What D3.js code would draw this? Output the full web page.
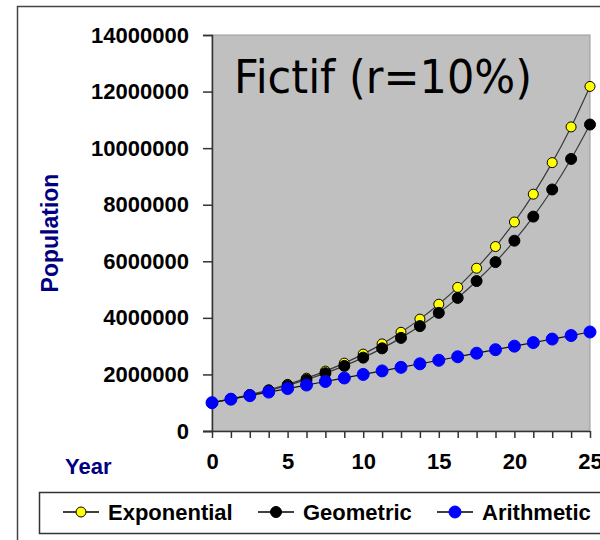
<!DOCTYPE html>
<html>
<head>
<meta charset="utf-8">
<script src="https://cdn.jsdelivr.net/npm/d3@7"></script>
<style>
  html, body { margin: 0; padding: 0; background: #ffffff; }
  svg { display: block; font-family: "Liberation Sans", Arial, sans-serif; }
</style>
</head>
<body>
<svg id="chart" width="600" height="540"></svg>
<script>
// Years sampled every 1.25
const years = [0, 1.25, 2.5, 3.75, 5, 6.25, 7.5, 8.75, 10, 11.25, 12.5, 13.75, 15,
               16.25, 17.5, 18.75, 20, 21.25, 22.5, 23.75, 25];

// Population under the three growth models, r = 10%
const exponential = [1000000, 1133000, 1284000, 1455000, 1649000, 1868000, 2117000,
                     2399000, 2718000, 3080000, 3490000, 3955000, 4482000, 5078000,
                     5755000, 6521000, 7389000, 8373000, 9488000, 10751000, 12182000];
const geometric = [1000000, 1127000, 1269000, 1430000, 1611000, 1814000, 2044000,
                   2302000, 2594000, 2922000, 3292000, 3708000, 4177000, 4706000,
                   5301000, 5972000, 6728000, 7579000, 8538000, 9618000, 10835000];
const arithmetic = [1000000, 1125000, 1250000, 1375000, 1500000, 1625000, 1750000,
                    1875000, 2000000, 2125000, 2250000, 2375000, 2500000, 2625000,
                    2750000, 2875000, 3000000, 3125000, 3250000, 3375000, 3500000];

const seriesNames = ["Exponential", "Geometric", "Arithmetic"];
const yTicks = [0, 2000000, 4000000, 6000000, 8000000, 10000000, 12000000, 14000000];
const xTicks = [0, 5, 10, 15, 20, 25];
const xMinorTicks = years;
const titleText = "Fictif (r=10%)";

const svg = d3.select("#chart");

// outer chart frame
svg.append("rect")
  .attr("x", 17.5).attr("y", 6.5)
  .attr("width", 620).attr("height", 560)
  .attr("fill", "#ffffff").attr("stroke", "#444").attr("stroke-width", 1.5);

const plot = { left: 212, top: 35, right: 590, bottom: 431 };

const x = d3.scaleLinear().domain([0, 25]).range([plot.left, plot.right]);
const y = d3.scaleLinear().domain([0, 14000000]).range([plot.bottom, plot.top]);

// plot area
svg.append("rect")
  .attr("x", plot.left).attr("y", plot.top)
  .attr("width", plot.right - plot.left).attr("height", plot.bottom - plot.top)
  .attr("fill", "#c0c0c0").attr("stroke", "#9a9a9a").attr("stroke-width", 1);

// chart title inside plot area
svg.append("text")
  .attr("x", 234).attr("y", 93)
  .style("font-family", "'DejaVu Sans', Tahoma, sans-serif")
  .style("font-size", "46px")
  .attr("fill", "#000")
  .attr("textLength", 298)
  .attr("lengthAdjust", "spacingAndGlyphs")
  .text(titleText);

// y axis
const yAxis = d3.axisLeft(y).tickValues(yTicks).tickSize(9).tickPadding(14)
  .tickFormat(d3.format("d"));
const gy = svg.append("g").attr("transform", `translate(${plot.left},0)`).call(yAxis);
gy.attr("font-family", null).attr("font-size", null);
gy.select(".domain").attr("stroke", "#333").attr("stroke-width", 1.5);
gy.selectAll(".tick line").attr("stroke", "#333").attr("stroke-width", 1.5);
gy.selectAll(".tick text")
  .style("font-size", "22px").style("font-weight", "bold").attr("fill", "#000");

// x axis: minor ticks every 1.25, labels every 5
const xAxisMinor = d3.axisBottom(x).tickValues(xMinorTicks).tickSize(7).tickFormat("");
const gxm = svg.append("g").attr("transform", `translate(0,${plot.bottom})`).call(xAxisMinor);
gxm.select(".domain").attr("stroke", "#333").attr("stroke-width", 1.5)
  .attr("d", `M${plot.left - 9},0.5H${plot.right}`);
gxm.selectAll(".tick line").attr("stroke", "#333").attr("stroke-width", 1.5);

const xAxis = d3.axisBottom(x).tickValues(xTicks).tickSize(0).tickPadding(22);
const gx = svg.append("g").attr("transform", `translate(0,${plot.bottom})`).call(xAxis);
gx.attr("font-family", null).attr("font-size", null);
gx.select(".domain").remove();
gx.selectAll(".tick text")
  .style("font-size", "22px").style("font-weight", "bold").attr("fill", "#000");

// axis titles
svg.append("text")
  .attr("x", 65).attr("y", 474)
  .style("font-size", "22px").style("font-weight", "bold").attr("fill", "#000080")
  .text("Year");
svg.append("text")
  .attr("transform", "translate(58,233) rotate(-90)")
  .attr("text-anchor", "middle")
  .style("font-size", "23px").style("font-weight", "bold").attr("fill", "#000080")
  .text("Population");

// series
const series = [
  { name: seriesNames[0], values: exponential, fill: "#ffff00", stroke: "#000", r: 5, line: "#3a3a3a" },
  { name: seriesNames[1], values: geometric, fill: "#000000", stroke: "#000", r: 5.5, line: "#3a3a3a" },
  { name: seriesNames[2], values: arithmetic, fill: "#0000ff", stroke: "#0000ff", r: 6, line: "#111" }
];

const line = d3.line().x((d, i) => x(years[i])).y(d => y(d)).curve(d3.curveMonotoneX);

series.forEach(s => {
  svg.append("path")
    .datum(s.values)
    .attr("d", line)
    .attr("fill", "none")
    .attr("stroke", s.line)
    .attr("stroke-width", 1.2);
});
series.forEach(s => {
  svg.append("g").selectAll("circle")
    .data(s.values)
    .join("circle")
    .attr("cx", (d, i) => x(years[i]))
    .attr("cy", d => y(d))
    .attr("r", s.r)
    .attr("fill", s.fill)
    .attr("stroke", s.stroke)
    .attr("stroke-width", 1);
});

// legend
svg.append("rect")
  .attr("x", 39.5).attr("y", 492.5)
  .attr("width", 600).attr("height", 41)
  .attr("fill", "#ffffff").attr("stroke", "#333").attr("stroke-width", 1.5);

const legendX = [63, 258, 437];
const legendY = 512;
series.forEach((s, i) => {
  const g = svg.append("g").attr("transform", `translate(${legendX[i]},${legendY})`);
  g.append("line").attr("x1", 0).attr("x2", 36).attr("y1", 0).attr("y2", 0)
    .attr("stroke", "#000").attr("stroke-width", 1.5);
  g.append("circle").attr("cx", 18).attr("cy", 0).attr("r", s.r)
    .attr("fill", s.fill).attr("stroke", s.stroke).attr("stroke-width", 1);
  g.append("text").attr("x", 45).attr("y", 8)
    .style("font-size", "22px").style("font-weight", "bold").attr("fill", "#000")
    .text(s.name);
});
</script>
</body>
</html>
